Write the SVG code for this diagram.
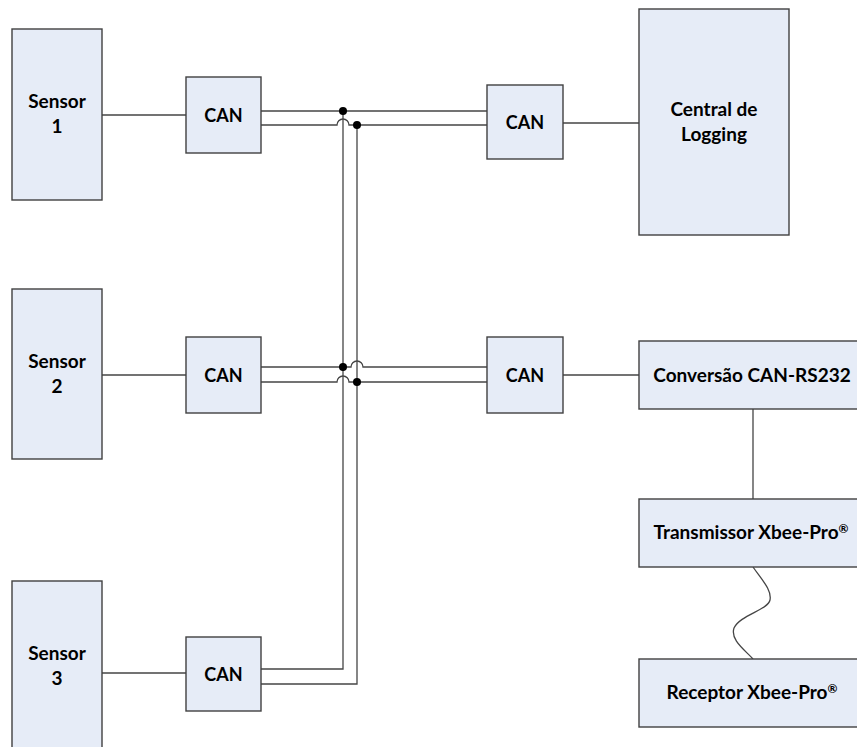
<svg xmlns="http://www.w3.org/2000/svg" width="857" height="747" viewBox="0 0 857 747">
<style>
.box{fill:#E6ECF7;stroke:#404040;stroke-width:1.4}
.t{font-family:Lato,"Liberation Sans",sans-serif;font-weight:bold;font-size:19px;fill:#000;text-anchor:middle}
.c{font-size:18px}
.w{fill:none;stroke:#454545;stroke-width:1.3}
.dot{fill:#000}
.sup{font-size:12px}
</style>
<rect width="857" height="747" fill="#fff"/>
<g id="connectors">
<path class="w" d="M102,115H186M102,375H186M102,673H186"/>
<path class="w" d="M563,123H639M563,375H639M753,409V499"/>
<path class="w" d="M753,567C762,580 772,590 770,600C768,610 740,615 734,628C730,640 745,650 753,659"/>
<path class="w" d="M261,111H487"/>
<path class="w" d="M261,125H337A6,6 0 0 1 349,125H487"/>
<path class="w" d="M261,367H351A6,6 0 0 1 363,367H487"/>
<path class="w" d="M261,382H337A6,6 0 0 1 349,382H487"/>
<path class="w" d="M343,111V669H261"/>
<path class="w" d="M357,125V684H261"/>
<circle class="dot" cx="343" cy="111" r="4"/>
<circle class="dot" cx="357" cy="125" r="4"/>
<circle class="dot" cx="343" cy="367" r="4"/>
<circle class="dot" cx="357" cy="382" r="4"/>
</g>
<g id="sensor1"><rect class="box" x="12" y="29" width="90" height="171"/><text class="t" x="57" y="108">Sensor</text><text class="t" x="57" y="133">1</text></g>
<g id="sensor2"><rect class="box" x="12" y="289" width="90" height="170"/><text class="t" x="57" y="368">Sensor</text><text class="t" x="57" y="393">2</text></g>
<g id="sensor3"><rect class="box" x="12" y="581" width="90" height="180"/><text class="t" x="57" y="660">Sensor</text><text class="t" x="57" y="685">3</text></g>
<g id="can1"><rect class="box" x="186" y="77" width="75" height="76"/><text class="t c" x="223.5" y="122">CAN</text></g>
<g id="can2"><rect class="box" x="186" y="337" width="75" height="76"/><text class="t c" x="223.5" y="382">CAN</text></g>
<g id="can3"><rect class="box" x="186" y="637" width="75" height="74"/><text class="t c" x="223.5" y="681">CAN</text></g>
<g id="can4"><rect class="box" x="487" y="85" width="76" height="74"/><text class="t c" x="525" y="129">CAN</text></g>
<g id="can5"><rect class="box" x="487" y="337" width="76" height="76"/><text class="t c" x="525" y="382">CAN</text></g>
<g id="central"><rect class="box" x="639" y="9" width="150" height="226"/><text class="t" x="714" y="116">Central de</text><text class="t" x="714" y="141">Logging</text></g>
<g id="conversao"><rect class="box" x="639" y="341" width="230" height="68"/><text class="t" x="752" y="382">Conversão CAN-RS232</text></g>
<g id="transmissor"><rect class="box" x="639" y="499" width="230" height="68"/><text class="t" x="751" y="539">Transmissor Xbee-Pro<tspan class="sup" dy="-6">®</tspan></text></g>
<g id="receptor"><rect class="box" x="639" y="659" width="230" height="68"/><text class="t" x="752" y="699">Receptor Xbee-Pro<tspan class="sup" dy="-6">®</tspan></text></g>
</svg>
